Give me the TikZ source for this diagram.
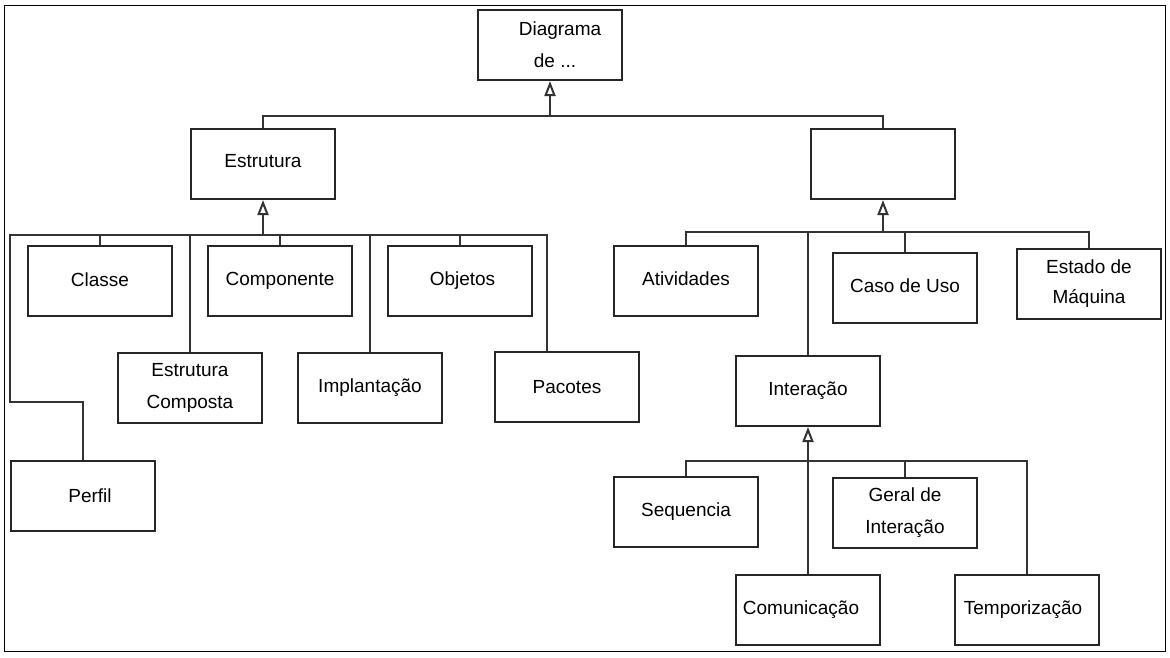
\documentclass[tikz,border=0pt]{standalone}
\usepackage{fontspec}
\setmainfont{Liberation Sans}
\usetikzlibrary{arrows.meta}
\begin{document}
\begin{tikzpicture}[x=1pt,y=-1pt,
  box/.style={draw=black!85, line width=2pt, minimum width=144pt, minimum height=70pt,
    inner sep=0pt, align=center, font=\fontsize{19}{32}\selectfont},
  conn/.style={draw=black!80, line width=2pt},
  gen/.style={conn, -{Triangle[open, length=15pt, width=11pt, line width=2pt]}}]
\useasboundingbox (0,0) rectangle (1170,657);
\draw[line width=1pt] (4.5,5.5) rectangle (1165.5,651.5);
% nodes
\node[box] (diag) at (550,45) {\hspace{20pt}Diagrama\\\hspace{10pt}de ...};
\node[box] (estr) at (263,164) {\raisebox{6pt}{Estrutura}};
\node[box] (comp2) at (883,164) {};
\node[box] (classe) at (100,281) {\raisebox{2pt}{Classe}};
\node[box] (compo) at (280,281) {Componente};
\node[box] (obj) at (460,281) {\hspace{5pt}Objetos};
\node[box] (ecomp) at (190,388) {Estrutura\\Composta};
\node[box] (impl) at (370,388) {Implantação};
\node[box] (pac) at (567,387) {Pacotes};
\node[box] (perfil) at (83,496) {\hspace{14pt}Perfil};
\node[box] (ativ) at (686,281) {\raisebox{4pt}{Atividades}};
\node[box] (inter) at (808,391) {\raisebox{4pt}{Interação}};
\node[box] (caso) at (905,288) {\raisebox{4pt}{Caso de Uso}};
\node[box] (estado) at (1089,284) {\raisebox{5pt}{\shortstack{Estado de\\[13pt]Máquina}}};
\node[box] (seq) at (686,512) {\raisebox{3pt}{Sequencia}};
\node[box] (geral) at (905,513) {Geral de\\Interação};
\node[box] (comun) at (808,610) {\raisebox{4pt}{Comunicação\hspace{14pt}}};
\node[box] (temp) at (1027,610) {\raisebox{4pt}{Temporização\hspace{8pt}}};
% bus coordinates
\coordinate (topbus) at (550,116);
\coordinate (ebus) at (263,235);
\coordinate (rbus) at (883,232);
\coordinate (ibus) at (808,461);
\coordinate (pbend) at (10,402);
\coordinate (pacx) at (547,300);
% top level
\draw[gen] (topbus) -- (diag.south);
\draw[conn] (estr.north) |- (topbus);
\draw[conn] (comp2.north) |- (topbus);
% Estrutura children
\draw[gen] (ebus) -- (estr.south);
\draw[conn] (classe.north) |- (ebus);
\draw[conn] (compo.north) |- (ebus);
\draw[conn] (obj.north) |- (ebus);
\draw[conn] (ecomp.north) |- (ebus);
\draw[conn] (impl.north) |- (ebus);
\draw[conn] (pacx |- pac.north) |- (ebus);
\draw[conn] (perfil.north) |- (pbend) |- (ebus);
% right children
\draw[gen] (rbus) -- (comp2.south);
\draw[conn] (ativ.north) |- (rbus);
\draw[conn] (inter.north) |- (rbus);
\draw[conn] (caso.north) |- (rbus);
\draw[conn] (estado.north) |- (rbus);
% Interacao children
\draw[gen] (ibus) -- (inter.south);
\draw[conn] (seq.north) |- (ibus);
\draw[conn] (geral.north) |- (ibus);
\draw[conn] (comun.north) |- (ibus);
\draw[conn] (temp.north) |- (ibus);
\end{tikzpicture}
\end{document}
